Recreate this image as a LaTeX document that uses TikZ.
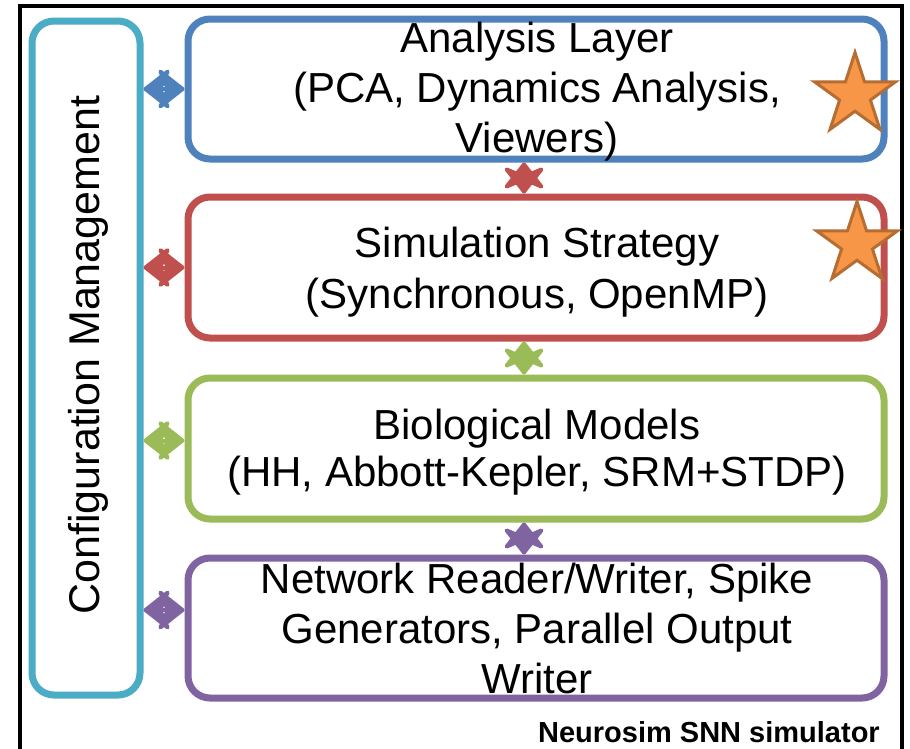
\documentclass[tikz,border=0pt]{standalone}
\usepackage{fontspec}
\setmainfont{Liberation Sans}
\usetikzlibrary{arrows.meta,shapes.geometric}

\definecolor{cfgcol}{HTML}{4BACC6}
\definecolor{anacol}{HTML}{4F81BD}
\definecolor{simcol}{HTML}{C0504D}
\definecolor{biocol}{HTML}{9BBB59}
\definecolor{netcol}{HTML}{8064A2}
\definecolor{starfill}{HTML}{F79646}
\definecolor{starline}{HTML}{B66D31}

\tikzset{
  layer/.style={draw=#1, line width=7pt, rounded corners=22pt,
    minimum width=696pt, minimum height=140pt, inner sep=0pt},
  txt/.style={anchor=base, inner sep=0pt, font=\fontsize{42}{50}\selectfont},
  conn/.style={draw=#1, line width=4pt,
    {Stealth[length=30pt,width=47pt,inset=10pt,round]}-{Stealth[length=30pt,width=47pt,inset=10pt,round]}},
  badge/.style={star, star points=5, star point ratio=2.618, minimum size=85pt,
    inner sep=0pt, fill=starfill, draw=starline, line width=3pt},
}

\begin{document}
\begin{tikzpicture}[x=1pt,y=-1pt]
  \useasboundingbox (0,0) rectangle (910,748);
  \clip (0,0) rectangle (910,748);
  \fill[white] (0,0) rectangle (910,748);

  % outer frame
  \draw[line width=4pt] (20,6) rectangle (902,770);

  % configuration column
  \node[draw=cfgcol, line width=7pt, rounded corners=22pt, minimum width=108pt,
        minimum height=674pt, inner sep=0pt] (cfg) at (86,358) {};
  \node[rotate=90, inner sep=0pt, font=\fontsize{43}{50}\selectfont] (cfgtext) at (88,355) {Configuration Management};

  % layers
  \node[layer=anacol] (ana) at (536,89) {};
  \node[layer=simcol, minimum height=141pt] (sim) at (536,267.5) {};
  \node[layer=biocol, minimum height=141pt] (bio) at (536,448.5) {};
  \node[layer=netcol] (net) at (536,628) {};

  % layer captions, one node per line
  \node[txt] (ana1) at (537,52) {Analysis Layer};
  \node[txt] (ana2) at (537,102) {(PCA, Dynamics Analysis,};
  \node[txt] (ana3) at (537,152) {Viewers)};
  \node[txt] (sim1) at (537,257) {Simulation Strategy};
  \node[txt] (sim2) at (537,308) {(Synchronous, OpenMP)};
  \node[txt] (bio1) at (537,439) {Biological Models};
  \node[txt] (bio2) at (537,486) {(HH, Abbott-Kepler, SRM+STDP)};
  \node[txt] (net1) at (537,593) {Network Reader/Writer, Spike};
  \node[txt] (net2) at (537,643) {Generators, Parallel Output};
  \node[txt] (net3) at (537,693) {Writer};

  % links to the configuration column
  \draw[conn=anacol] (cfg.east |- ana.west) -- (ana.west);
  \draw[conn=simcol] (cfg.east |- sim.west) -- (sim.west);
  \draw[conn=biocol] ([yshift=8pt]cfg.east |- bio.west) -- ([yshift=8pt]bio.west);
  \draw[conn=netcol] ([yshift=18pt]cfg.east |- net.west) -- ([yshift=18pt]net.west);

  % links between layers
  \draw[conn=simcol] ([xshift=-12pt]ana.south) -- ([xshift=-12pt]sim.north);
  \draw[conn=biocol] ([xshift=-12pt]sim.south) -- ([xshift=-12pt]bio.north);
  \draw[conn=netcol] ([xshift=-12pt]bio.south) -- ([xshift=-12pt]net.north);

  % highlight stars
  \node[badge] (star1) at (855,95) {};
  \node[badge] (star2) at (857,244) {};

  % caption
  \node[anchor=base east, inner sep=0pt, font=\fontsize{29}{31}\selectfont\bfseries] (caption) at (880,742) {Neurosim SNN simulator};
\end{tikzpicture}
\end{document}
